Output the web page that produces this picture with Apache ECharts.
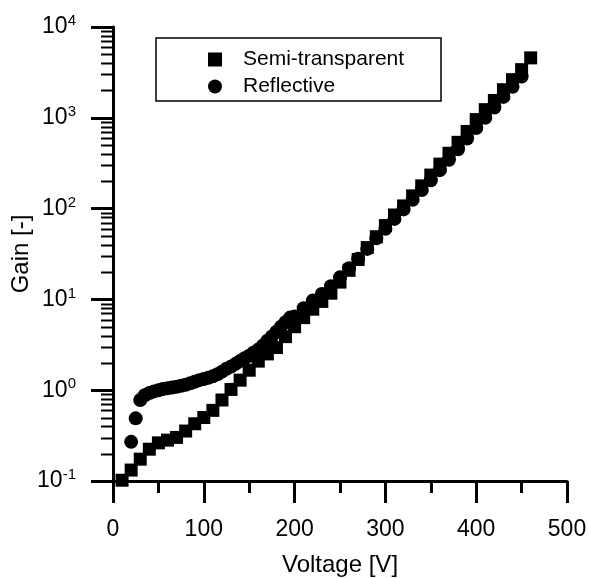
<!DOCTYPE html>
<html lang="en">
  <head>
    <meta charset="UTF-8" />
    <title>Gain vs Voltage</title>
    <script src="https://cdn.jsdelivr.net/npm/echarts@6.0.0/dist/echarts.min.js"></script>
    <style>
      body { margin: 0; background: #fff; }
    </style>
  </head>
  <body>
    <div id="main" style="width: 589px; height: 578px"></div>

    <script type="text/javascript">
      // Semi-transparent: one point every 10 V
      const semiVoltage = [10, 20, 30, 40, 50, 60, 70, 80, 90, 100, 110, 120, 130, 140, 150, 160, 170, 180, 190, 200,
        210, 220, 230, 240, 250, 260, 270, 280, 290, 300, 310, 320, 330, 340, 350, 360, 370, 380, 390, 400,
        410, 420, 430, 440, 450, 460];
      const semiGain = [0.102, 0.132, 0.174, 0.224, 0.263, 0.282, 0.302, 0.355, 0.427, 0.5, 0.6, 0.78, 1.02, 1.29, 1.66,
        2.09, 2.51, 2.95, 3.89, 5.0, 6.3, 7.8, 9.5, 11.7, 15.5, 20.9, 27.5, 37.2, 49, 65, 85, 107, 138, 178, 234,
        309, 407, 537, 708, 955, 1230, 1550, 2040, 2630, 3390, 4570];

      // Reflective: every 5 V up to 195 V, then every 10 V
      const reflVoltage = [20, 25, 30, 35, 40, 45, 50, 55, 60, 65, 70, 75, 80, 85, 90, 95, 100, 105, 110, 115, 120,
        125, 130, 135, 140, 145, 150, 155, 160, 165, 170, 175, 180, 185, 190, 195,
        200, 210, 220, 230, 240, 250, 260, 270, 280, 290, 300, 310, 320, 330, 340, 350, 360, 370, 380, 390, 400,
        410, 420, 430, 440, 450];
      const reflGain = [0.27, 0.49, 0.78, 0.88, 0.93, 0.97, 1.0, 1.03, 1.05, 1.07, 1.09, 1.12, 1.15, 1.19, 1.24, 1.29,
        1.33, 1.37, 1.42, 1.5, 1.6, 1.72, 1.82, 1.95, 2.1, 2.25, 2.4, 2.6, 2.8, 3.1, 3.5, 3.9, 4.4, 5.0, 5.6, 6.3,
        6.5, 8.0, 9.7, 11.5, 14, 17.5, 22, 28, 36, 47, 60, 77, 98, 125, 160, 205, 265, 345, 450, 590, 770,
        1000, 1300, 1700, 2200, 2850];

      const seriesNames = ["Semi-transparent", "Reflective"];
      const exponents = { 0.1: "-1", 1: "0", 10: "1", 100: "2", 1000: "3", 10000: "4" };
      const decades = [0.1, 1, 10, 100, 1000];
      const minorSteps = [2, 3, 4, 5, 6, 7, 8, 9];

      const font = "'Liberation Sans', Arial, sans-serif";

      let myChart = echarts.init(document.getElementById("main"));

      let options = {
        animation: false,
        textStyle: { fontFamily: font, color: "#000" },
        grid: { left: 113, right: 22, top: 27, bottom: 97, containLabel: false, outerBoundsMode: "none" },
        legend: {
          orient: "vertical",
          left: 203,
          top: 44,
          itemWidth: 14,
          itemHeight: 14,
          itemGap: 6,
          textStyle: { fontFamily: font, fontSize: 21, color: "#000", padding: [0, 0, 0, 16] },
          data: [
            { name: seriesNames[0], icon: "rect" },
            { name: seriesNames[1], icon: "circle" },
          ],
        },
        xAxis: {
          type: "value",
          min: 0,
          max: 500,
          interval: 100,
          name: "Voltage [V]",
          nameLocation: "middle",
          nameGap: 72,
          nameMoveOverlap: false,
          nameTextStyle: { fontFamily: font, fontSize: 24, color: "#000" },
          axisLine: { lineStyle: { color: "#000", width: 3 } },
          axisTick: { length: 22, lineStyle: { color: "#000", width: 3 } },
          minorTick: { show: true, splitNumber: 2, length: 12, lineStyle: { color: "#000", width: 3 } },
          axisLabel: { fontFamily: font, fontSize: 23, color: "#000", margin: 37 },
          splitLine: { show: false },
        },
        yAxis: {
          type: "log",
          logBase: 10,
          min: 0.1,
          max: 10000,
          name: "Gain [-]",
          nameLocation: "middle",
          nameGap: 80,
          nameMoveOverlap: false,
          nameTextStyle: { fontFamily: font, fontSize: 24, color: "#000" },
          axisLine: { lineStyle: { color: "#000", width: 3 } },
          axisTick: { length: 22, lineStyle: { color: "#000", width: 3 } },
          minorTick: { show: false },
          axisLabel: {
            margin: 37,
            formatter: (v) => "{b|10}{s|" + exponents[v] + "}",
            rich: {
              b: { fontFamily: font, fontSize: 23, color: "#000" },
              s: { fontFamily: font, fontSize: 15, color: "#000", padding: [0, 0, 12, 0] },
            },
          },
          splitLine: { show: false },
        },
        graphic: [
          {
            type: "rect",
            shape: { x: 156, y: 38, width: 285, height: 63 },
            style: { fill: "none", stroke: "#000", lineWidth: 1.5 },
          },
        ],
        series: [
          {
            name: seriesNames[0],
            type: "scatter",
            symbol: "rect",
            symbolSize: 13,
            itemStyle: { color: "#000", opacity: 1 },
            data: semiVoltage.map((v, i) => [v, semiGain[i]]),
          },
          {
            name: seriesNames[1],
            type: "scatter",
            symbol: "circle",
            symbolSize: 14,
            itemStyle: { color: "#000", opacity: 1 },
            data: reflVoltage.map((v, i) => [v, reflGain[i]]),
          },
        ],
      };

      myChart.setOption(options);

      // log-axis minor ticks at 2..9 of each decade, placed through the axis scale
      const axisX = myChart.convertToPixel({ xAxisIndex: 0 }, 0);
      const minorLines = [];
      decades.forEach((d) => {
        minorSteps.forEach((m) => {
          const y = Math.round(myChart.convertToPixel({ yAxisIndex: 0 }, d * m)) + 0.5;
          minorLines.push({
            type: "line",
            shape: { x1: axisX - 12, y1: y, x2: axisX, y2: y },
            style: { stroke: "#000", lineWidth: 2 },
            z: 10,
          });
        });
      });
      myChart.setOption({ graphic: options.graphic.concat(minorLines) });
    </script>
  </body>
</html>
